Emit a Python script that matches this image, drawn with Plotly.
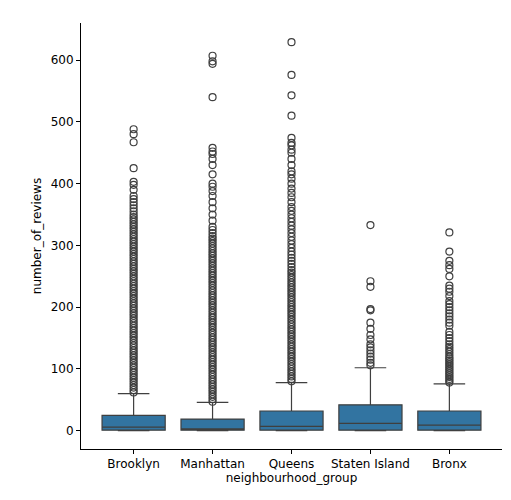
import plotly.graph_objects as go

groups = ["Brooklyn", "Manhattan", "Queens", "Staten Island", "Bronx"]
q1 = [1, 1, 1, 1, 1]
median = [6, 3, 7, 12, 9]
q3 = [25, 19, 32, 42, 32]
lower = [0, 0, 0, 0, 0]
upper = [60, 46, 78, 102, 76]

outliers = {
    "Brooklyn": [62, 66, 70, 74, 78, 82, 86, 90, 94, 98, 102, 106, 110, 114, 118, 122, 126, 130, 134, 138,
                 142, 146, 150, 154, 158, 162, 166, 170, 174, 178, 182, 186, 190, 194, 198, 202, 206, 210,
                 214, 218, 222, 226, 230, 234, 238, 242, 246, 250, 254, 258, 262, 266, 270, 274, 278, 282,
                 286, 290, 294, 298, 302, 306, 310, 314, 318, 322, 326, 330, 334, 338, 342, 346, 350, 355,
                 360, 365, 370, 375, 380, 390, 398, 403, 425, 467, 480, 488],
    "Manhattan": [47, 51, 55, 59, 63, 67, 71, 75, 79, 83, 87, 91, 95, 99, 103, 107, 111, 115, 119, 123,
                  127, 131, 135, 139, 143, 147, 151, 155, 159, 163, 167, 171, 175, 179, 183, 187, 191, 195,
                  199, 203, 207, 211, 215, 219, 223, 227, 231, 235, 239, 243, 247, 251, 255, 259, 263, 267,
                  271, 275, 279, 283, 287, 291, 295, 299, 303, 307, 311, 315, 320, 325, 330, 340, 350, 360,
                  370, 380, 388, 395, 400, 415, 430, 440, 448, 452, 458, 540, 594, 598, 607],
    "Queens": [80, 84, 88, 92, 96, 100, 104, 108, 112, 116, 120, 124, 128, 132, 136, 140, 144, 148, 152,
               156, 160, 164, 168, 172, 176, 180, 184, 188, 192, 196, 200, 204, 208, 212, 216, 220, 224,
               228, 232, 236, 240, 244, 248, 252, 256, 260, 265, 270, 275, 280, 285, 290, 296, 302, 308,
               314, 320, 326, 332, 338, 344, 350, 356, 362, 370, 378, 385, 392, 400, 408, 415, 420, 430,
               440, 450, 455, 462, 466, 474, 510, 543, 576, 629],
    "Staten Island": [106, 110, 115, 120, 125, 130, 135, 140, 148, 155, 165, 175, 195, 197, 233, 242, 333],
    "Bronx": [78, 81, 84, 87, 90, 93, 96, 99, 102, 105, 108, 111, 114, 117, 120, 124, 128, 132, 136, 140,
              145, 150, 155, 160, 170, 175, 180, 185, 190, 195, 200, 205, 210, 218, 225, 230, 235, 250,
              262, 268, 275, 290, 321],
}

fig = go.Figure()
for i, g in enumerate(groups):
    fig.add_trace(go.Box(
        x=[g], q1=[q1[i]], median=[median[i]], q3=[q3[i]],
        lowerfence=[lower[i]], upperfence=[upper[i]],
        fillcolor="#3274a1", line=dict(color="#3f3f3f", width=1.2),
        boxpoints=False, whiskerwidth=0.5, width=0.8, showlegend=False,
    ))
    fig.add_trace(go.Scatter(
        x=[g] * len(outliers[g]), y=outliers[g], mode="markers",
        marker=dict(symbol="circle-open", size=7, color="#3f3f3f", line=dict(width=1.2)),
        showlegend=False, hoverinfo="y",
    ))

axis = dict(showline=True, linecolor="black", linewidth=1, ticks="outside", ticklen=4,
            tickcolor="black", showgrid=False, zeroline=False, mirror=False, automargin=False,
            tickfont=dict(size=12, color="black"), title_font=dict(size=12, color="black"))
fig.update_layout(
    width=511, height=500, margin=dict(l=73, r=17, t=15, b=59),
    plot_bgcolor="white", paper_bgcolor="white",
    font=dict(family="DejaVu Sans", color="black"),
    xaxis=dict(axis, title=dict(text="neighbourhood_group", standoff=2),
               categoryorder="array", categoryarray=groups),
    yaxis=dict(axis, title=dict(text="number_of_reviews", standoff=6), range=[-29.5, 660],
               tickvals=[0, 100, 200, 300, 400, 500, 600]),
)
fig.write_html("out.html")
